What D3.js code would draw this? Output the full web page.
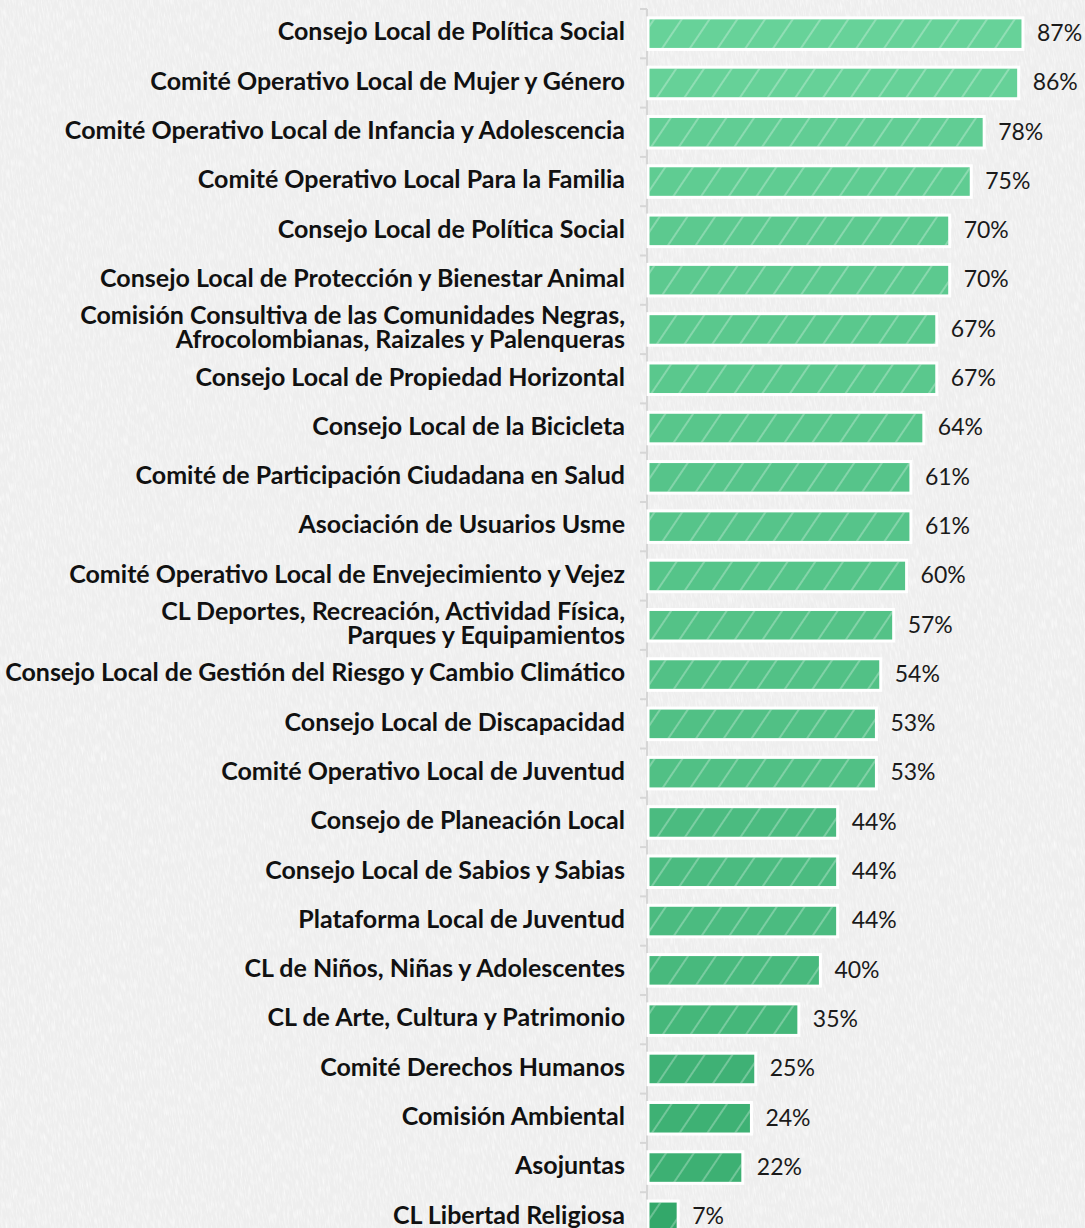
<!DOCTYPE html>
<html>
<head>
<meta charset="utf-8">
<script src="https://cdn.jsdelivr.net/npm/d3@7"></script>
<style>
  html, body { margin: 0; padding: 0; background: #f2f2f2; }
  svg { display: block; }
</style>
</head>
<body>
<svg id="chart" width="1085" height="1228"></svg>
<script>
// Instancias de participación local y su porcentaje
const categories = [
  "Consejo Local de Política Social",
  "Comité Operativo Local de Mujer y Género",
  "Comité Operativo Local de Infancia y Adolescencia",
  "Comité Operativo Local Para la Familia",
  "Consejo Local de Política Social",
  "Consejo Local de Protección y Bienestar Animal",
  "Comisión Consultiva de las Comunidades Negras,\nAfrocolombianas, Raizales y Palenqueras",
  "Consejo Local de Propiedad Horizontal",
  "Consejo Local de la Bicicleta",
  "Comité de Participación Ciudadana en Salud",
  "Asociación de Usuarios Usme",
  "Comité Operativo Local de Envejecimiento y Vejez",
  "CL Deportes, Recreación, Actividad Física,\nParques y Equipamientos",
  "Consejo Local de Gestión del Riesgo y Cambio Climático",
  "Consejo Local de Discapacidad",
  "Comité Operativo Local de Juventud",
  "Consejo de Planeación Local",
  "Consejo Local de Sabios y Sabias",
  "Plataforma Local de Juventud",
  "CL de Niños, Niñas y Adolescentes",
  "CL de Arte, Cultura y Patrimonio",
  "Comité Derechos Humanos",
  "Comisión Ambiental",
  "Asojuntas",
  "CL Libertad Religiosa"
];
const values = [87, 86, 78, 75, 70, 70, 67, 67, 64, 61, 61, 60, 57, 54, 53, 53, 44, 44, 44, 40, 35, 25, 24, 22, 7];

const data = categories.map((c, i) => ({ id: i, label: c, value: values[i] }));

const svg = d3.select("#chart");
const W = 1085, H = 1228;
const x0 = 648;
const step = 49.3;
const yStart = 9;

const x = d3.scaleLinear().domain([0, 100]).range([x0, x0 + 431]);
const y = d3.scaleBand()
  .domain(data.map(d => d.id))
  .range([yStart, yStart + step * data.length])
  .paddingInner(0.36)
  .paddingOuter(0.18);

const color = d3.scaleLinear()
  .domain([d3.min(values), d3.max(values)])
  .range(["#33a86a", "#67d299"])
  .interpolate(d3.interpolateRgb);

const defs = svg.append("defs");

// paper-like background grain
const grain = defs.append("filter").attr("id", "grain")
  .attr("x", 0).attr("y", 0).attr("width", "100%").attr("height", "100%");
grain.append("feTurbulence")
  .attr("type", "fractalNoise")
  .attr("baseFrequency", "0.8 0.1")
  .attr("numOctaves", 2)
  .attr("seed", 3)
  .attr("result", "noise");
grain.append("feColorMatrix")
  .attr("in", "noise")
  .attr("type", "matrix")
  .attr("values", "0 0 0 0 1  0 0 0 0 1  0 0 0 0 1  0 0 0 -2.0 1.15");

svg.append("rect").attr("width", W).attr("height", H).attr("fill", "#eeeeee");
svg.append("rect").attr("x", -200).attr("y", -200).attr("width", W + 400).attr("height", H + 400)
  .attr("filter", "url(#grain)").attr("opacity", 0.75)
  .attr("transform", "rotate(-8 542 614)");

// diagonal hatch overlay for bars
const hatch = defs.append("pattern")
  .attr("id", "hatch")
  .attr("patternUnits", "userSpaceOnUse")
  .attr("width", 23)
  .attr("height", 23)
  .attr("patternTransform", "rotate(34)");
hatch.append("line")
  .attr("x1", 1).attr("y1", -2).attr("x2", 1).attr("y2", 25)
  .attr("stroke", "#ffffff")
  .attr("stroke-opacity", 0.5)
  .attr("stroke-width", 1.1);

// axis line and ticks between bands
const g = svg.append("g");
g.append("line")
  .attr("x1", x0 - 1).attr("x2", x0 - 1)
  .attr("y1", yStart).attr("y2", H)
  .attr("stroke", "#d6d6d6").attr("stroke-width", 2);
g.selectAll(".tick")
  .data(d3.range(data.length + 1))
  .join("line")
  .attr("class", "tick")
  .attr("x1", x0 - 8).attr("x2", x0 - 1)
  .attr("y1", i => yStart + i * step).attr("y2", i => yStart + i * step)
  .attr("stroke", "#d6d6d6").attr("stroke-width", 2);

// bars
const bars = svg.append("g").selectAll("g.bar")
  .data(data)
  .join("g").attr("class", "bar");

bars.append("rect")
  .attr("x", x(0))
  .attr("y", d => y(d.id))
  .attr("width", d => x(d.value) - x(0))
  .attr("height", y.bandwidth())
  .attr("fill", d => color(d.value))
  .attr("stroke", "#ffffff")
  .attr("stroke-width", 3);

bars.append("rect")
  .attr("x", x(0) + 1.5)
  .attr("y", d => y(d.id) + 1.5)
  .attr("width", d => Math.max(0, x(d.value) - x(0) - 3))
  .attr("height", y.bandwidth() - 3)
  .attr("fill", "url(#hatch)");

// value labels
bars.append("text")
  .attr("x", d => x(d.value) + 14)
  .attr("y", d => y(d.id) + y.bandwidth() / 2 - 1)
  .attr("dy", "0.36em")
  .attr("font-family", "Lato, sans-serif")
  .attr("font-size", 23)
  .attr("fill", "#1a1a1a")
  .text(d => d.value + "%");

// category labels
const lineH = 24.5;
bars.append("text")
  .attr("text-anchor", "end")
  .attr("font-family", "Lato, sans-serif")
  .attr("font-weight", 700)
  .attr("font-size", 25)
  .attr("fill", "#111111")
  .each(function(d) {
    const lines = d.label.split("\n");
    const cy = y(d.id) + y.bandwidth() / 2 - 2;
    const t = d3.select(this);
    lines.forEach((ln, k) => {
      t.append("tspan")
        .attr("x", 625)
        .attr("y", cy + (k - (lines.length - 1) / 2) * lineH)
        .attr("dy", "0.35em")
        .text(ln);
    });
  });
</script>
</body>
</html>
